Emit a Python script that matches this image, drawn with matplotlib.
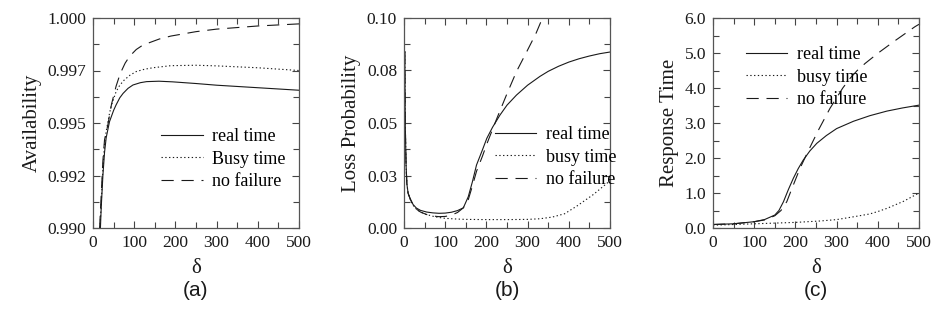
import numpy as np
import matplotlib
matplotlib.use("Agg")
import matplotlib.pyplot as plt
from matplotlib.ticker import MultipleLocator, FixedLocator

# ---- data ----
# (a) availability
d_a_real = [18, 20, 24, 28, 32, 40, 50, 56, 65, 73, 85, 97, 115, 130, 160, 193, 250, 300, 400, 500]
a_real = [0.9900, 0.9910, 0.9925, 0.9936, 0.9943, 0.99506, 0.9956, 0.99586, 0.9962, 0.99641, 0.99665,
          0.99681, 0.99692, 0.99697, 0.99699, 0.99696, 0.99688, 0.99680, 0.99668, 0.99656]
d_a_busy = [17, 20, 24, 28, 32, 40, 44, 56, 65, 76, 90, 105, 125, 145, 189, 250, 300, 400, 500]
a_busy = [0.9900, 0.9912, 0.9928, 0.9940, 0.9946, 0.99545, 0.9958, 0.99649, 0.9968, 0.99705, 0.99728,
          0.99745, 0.99756, 0.99763, 0.99773, 0.99775, 0.99772, 0.99763, 0.99750]
d_a_nofail = [16, 20, 24, 28, 36, 45, 56, 66, 78, 89, 105, 121, 161, 189, 250, 300, 400, 500]
a_nofail = [0.9900, 0.9916, 0.9932, 0.9942, 0.9949, 0.9959, 0.99675, 0.99735, 0.99785, 0.99818, 0.99850,
            0.99871, 0.99900, 0.99914, 0.99935, 0.99947, 0.99962, 0.99972]

# (b) loss probability
d_b_real = [2, 3, 5, 7, 10, 15, 22, 30, 40, 55, 70, 85, 100, 115, 130, 144, 156, 166, 176, 190, 201,
            215, 233, 250, 273, 300, 330, 350, 375, 400, 425, 450, 475, 500]
b_real = [0.084, 0.050, 0.030, 0.021, 0.0165, 0.0140, 0.0112, 0.0095, 0.0084, 0.0076, 0.0072, 0.0070,
          0.0071, 0.0075, 0.0083, 0.0096, 0.0149, 0.022, 0.030, 0.037, 0.0427, 0.048, 0.0538, 0.0585,
          0.0633, 0.0680, 0.0722, 0.0746, 0.0770, 0.0790, 0.0806, 0.0819, 0.0830, 0.0838]
d_b_busy = [2, 3, 5, 7, 10, 15, 22, 30, 40, 55, 70, 85, 100, 125, 150, 200, 250, 300, 330, 360, 390,
            420, 460, 500]
b_busy = [0.084, 0.050, 0.030, 0.021, 0.0165, 0.0138, 0.0108, 0.0090, 0.0076, 0.0064, 0.0056, 0.0050,
          0.0046, 0.0043, 0.0041, 0.0040, 0.0040, 0.0041, 0.0044, 0.0052, 0.0068, 0.0105, 0.0160, 0.0225]
d_b_nofail = [2, 3, 5, 7, 10, 15, 22, 30, 40, 55, 70, 85, 100, 115, 130, 144, 156, 166, 176, 190, 201,
              213, 225, 249, 273, 298, 320, 334, 345]
b_nofail = [0.084, 0.050, 0.030, 0.021, 0.0165, 0.0138, 0.0108, 0.0090, 0.0076, 0.0064, 0.0057, 0.0054,
            0.0055, 0.0061, 0.0074, 0.0096, 0.0135, 0.020, 0.027, 0.034, 0.040, 0.046, 0.052, 0.0635,
            0.0745, 0.0840, 0.0925, 0.0990, 0.1030]

# (c) response time
d_c_real = [0, 50, 100, 125, 150, 160, 171, 183, 195, 207, 219, 235, 252, 275, 300, 341, 381, 422, 460, 500]
c_real = [0.10, 0.12, 0.18, 0.24, 0.37, 0.50, 0.75, 1.10, 1.42, 1.70, 1.94, 2.20, 2.42, 2.64, 2.84,
          3.05, 3.21, 3.34, 3.43, 3.51]
d_c_busy = [0, 100, 200, 260, 300, 341, 380, 400, 422, 462, 500]
c_busy = [0.08, 0.12, 0.16, 0.20, 0.24, 0.32, 0.40, 0.47, 0.56, 0.76, 1.00]
d_c_nofail = [0, 50, 100, 125, 150, 165, 179, 195, 211, 231, 256, 284, 300, 315, 333, 350, 369, 401,
              438, 490, 500]
c_nofail = [0.10, 0.12, 0.18, 0.23, 0.35, 0.50, 0.75, 1.23, 1.70, 2.20, 2.80, 3.42, 3.72, 4.00, 4.28,
            4.50, 4.70, 5.00, 5.32, 5.75, 5.82]

ticks_a = ["0.990", "0.992", "0.995", "0.997", "1.000"]
ticks_b = ["0.00", "0.03", "0.05", "0.08", "0.10"]
ticks_c = ["0.0", "1.0", "2.0", "3.0", "4.0", "5.0", "6.0"]
xticks = [0, 100, 200, 300, 400, 500]

SERIF = ["Liberation Serif", "DejaVu Serif"]
INK = "#1a1a1a"

fig = plt.figure(figsize=(9.32, 3.24), dpi=100)

lefts = [93 / 932, 404 / 932, 713 / 932]
w = 206 / 932
b0 = 1 - 228 / 324
h = 210 / 324
axs = [fig.add_axes([l, b0, w, h]) for l in lefts]


def style(ax, ylo, yhi, ymaj, labels, ylabel):
    ax.set_xlim(0, 500)
    ax.set_ylim(ylo, yhi)
    ax.xaxis.set_major_locator(FixedLocator(xticks))
    ax.xaxis.set_minor_locator(MultipleLocator(50))
    ax.yaxis.set_major_locator(FixedLocator(np.linspace(ylo, yhi, len(labels))))
    ax.yaxis.set_minor_locator(MultipleLocator(ymaj / 2))
    ax.set_yticklabels(labels)
    ax.set_xticklabels([str(t) for t in xticks])
    ax.tick_params(which="both", direction="in", top=True, right=True, color="#444444",
                   labelsize=12.5, labelcolor=INK)
    ax.tick_params(which="major", length=5, width=0.8, pad=5)
    ax.tick_params(which="minor", length=4, width=0.8)
    for lab in ax.get_xticklabels() + ax.get_yticklabels():
        lab.set_family(SERIF)
    for s in ax.spines.values():
        s.set_color("#555555")
        s.set_linewidth(0.9)
    ax.set_xlabel("δ", fontsize=15, family=SERIF, color=INK, labelpad=6)
    ax.set_ylabel(ylabel, fontsize=15, family=SERIF, color=INK, labelpad=4)


def draw(ax, d1, y1, d2, y2, d3, y3, names, anchor):
    l1, = ax.plot(d1, y1, color=INK, lw=0.8, ls="-")
    l2, = ax.plot(d2, y2, color=INK, lw=0.8, ls=(0, (1.2, 2.2)))
    l3, = ax.plot(d3, y3, color=INK, lw=0.8, ls=(0, (11, 7)))
    ax.legend([l1, l2, l3], names, loc="upper left", bbox_to_anchor=anchor, frameon=False,
              borderpad=0, borderaxespad=0, handlelength=2.3, handletextpad=0.55,
              labelspacing=0.3, prop={"family": SERIF, "size": 13})


style(axs[0], 0.990, 1.000, 0.0025, ticks_a, "Availability")
draw(axs[0], d_a_real, a_real, d_a_busy, a_busy, d_a_nofail, a_nofail,
     ["real time", "Busy time", "no failure"], (0.33, 0.475))

style(axs[1], 0.0, 0.10, 0.025, ticks_b, "Loss Probability")
draw(axs[1], d_b_real, b_real, d_b_busy, b_busy, d_b_nofail, b_nofail,
     ["real time", "busy time", "no failure"], (0.44, 0.485))

style(axs[2], 0.0, 6.0, 1.0, ticks_c, "Response Time")
draw(axs[2], d_c_real, c_real, d_c_busy, c_busy, d_c_nofail, c_nofail,
     ["real time", "busy time", "no failure"], (0.16, 0.865))

for ax, tag in zip(axs, ["(a)", "(b)", "(c)"]):
    pos = ax.get_position()
    fig.text(pos.x0 + pos.width / 2, 1 - 290 / 324, tag, ha="center", va="center",
             fontsize=15, family=["Liberation Sans", "DejaVu Sans"], color=INK)

fig.savefig("out.png", dpi=100)
